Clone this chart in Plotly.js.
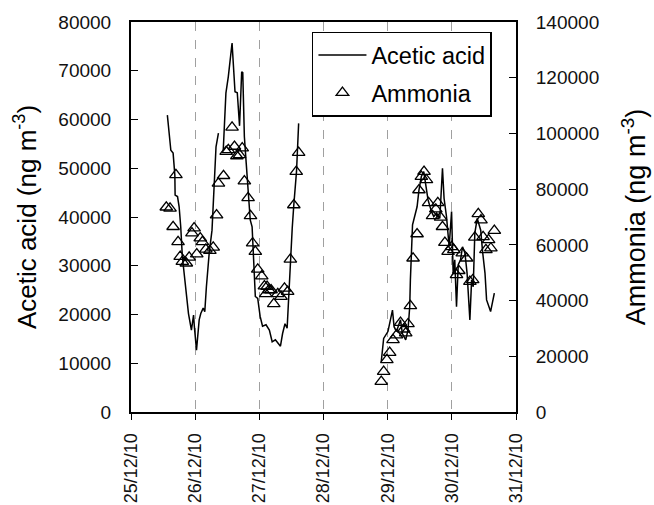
<!DOCTYPE html>
<html>
<head>
<meta charset="utf-8">
<script src="https://cdn.plot.ly/plotly-3.0.1.min.js"></script>
<style>html,body{margin:0;padding:0;background:#fff;}#chart{width:654px;height:505px;}</style>
</head>
<body>
<div id="chart"></div>
<script>
// Hours after 25/12/2010 00:00 and concentrations (ng m-3); null = gap in record
var aceticHours = [13.6,14.9,15.75,16.4,16.5,17.4,18.0,18.6,19.2,19.9,20.5,21.5,22.6,23.4,23.7,24.5,25.5,26.1,27.0,27.6,28.2,29.25,30.3,31.1,31.8,32.7,
  33.6,
  34.5,35.5,36.4,37.8,38.9,39.75,40.6,41.4,41.8,42.4,43.1,43.9,44.6,45.3,45.75,46.5,47.4,48.3,49.2,50.5,51.75,52.8,54.0,54.9,55.9,56.7,57.6,58.4,59.0,59.6,60.3,60.9,61.9,62.7,
  80,
  93.6,94.5,96.1,97.8,98.4,99.3,100.8,101.5,102.75,103.6,104.25,104.5,105.3,106.1,107.0,107.7,108.6,109.5,110.25,111.1,112.4,113.25,114.3,115.5,116.5,117.1,118.0,119.0,119.9,120.5,121.1,121.75,122.4,123.25,124.0,124.9,125.7,126.75,127.4,128.0,128.6,129.5,130.2,130.8,131.5,132.4,133.0,134.5,135.9];
var aceticAcid = [60900,53700,53100,48600,44500,44200,42100,38000,31900,28400,24300,20200,16800,19900,17500,12700,18900,20200,21300,20600,25700,32600,37300,46200,54400,57200,
  null,
  53700,65400,68800,75700,65700,65500,58700,69800,69600,56500,51000,45500,39400,38000,32200,23700,23300,19600,17600,17900,16800,14400,14800,14200,13500,16100,18100,17200,24700,31500,37700,42500,49300,59200,
  null,
  10300,15100,16500,20900,17500,16500,18900,16100,14800,16800,21600,27100,38400,40100,42100,45500,48300,49300,46600,43500,41100,40100,40800,39700,50000,43800,40100,33900,41100,28500,31200,21600,30200,31200,33900,32600,28500,18900,27100,25700,36700,39700,38400,37300,32900,28500,23000,20600,24400];

var ammoniaHours = [13.2,14.6,15.75,16.8,17.6,18.4,19.2,20.7,21.75,22.8,23.6,24.6,25.9,26.7,28.0,29.5,30.75,32.0,32.7,34.6,35.6,36.4,37.8,38.7,39.6,40.6,41.6,42.4,43.8,44.7,45.5,46.5,47.4,48.9,49.9,50.4,50.9,51.6,52.4,53.4,54.9,56.1,57.4,58.6,59.6,60.9,61.8,62.7,
  93.6,94.5,95.7,96.75,98.0,99.3,100.8,102.0,102.75,103.6,104.5,105.5,107.0,107.7,108.6,109.6,110.5,111.3,112.8,114.0,114.75,115.8,116.5,117.4,118.6,119.9,120.75,121.75,122.6,123.9,125.5,126.75,127.8,128.6,129.9,130.9,131.7,132.75,133.75,134.6,135.9];
var ammonia = [73500,73100,66500,85100,61100,55800,54000,53400,55500,64200,66000,56700,62400,61100,58400,57900,59100,70700,82100,84800,93500,94100,102200,95300,91900,92300,94700,82900,76900,70400,60600,57600,51200,48800,45200,42400,45000,43800,43800,38800,42400,41400,44400,43200,54800,74300,86300,93100,
  10900,14500,18700,21300,25900,27600,32100,29700,28300,31600,38100,55200,63900,79700,84500,86300,83300,75100,70400,72800,75100,69900,66500,60800,57600,59300,58200,49200,50700,57000,55200,46800,47400,62700,71100,68900,62900,58200,61800,58800,65100];

var dayTickLabels = ['25/12/10','26/12/10','27/12/10','28/12/10','29/12/10','30/12/10','31/12/10'];

var startMs = Date.UTC(2010, 11, 25);
function toDate(h) {
  var d = new Date(startMs + h * 3600000);
  function p(n){ return (n < 10 ? '0' : '') + n; }
  return d.getUTCFullYear() + '-' + p(d.getUTCMonth() + 1) + '-' + p(d.getUTCDate()) + ' ' +
         p(d.getUTCHours()) + ':' + p(d.getUTCMinutes()) + ':' + p(d.getUTCSeconds());
}
var tickVals = dayTickLabels.map(function(_, i){ return toDate(24 * i); });

var FONT = 'Liberation Sans, Arial, sans-serif';

var traces = [
  {
    x: aceticHours.map(toDate), y: aceticAcid, name: 'Acetic acid',
    type: 'scatter', mode: 'lines', connectgaps: false,
    line: {color: '#000', width: 1.5},
    legendgroup: 'a', yaxis: 'y'
  },
  {
    x: ammoniaHours.map(toDate), y: ammonia, name: 'Ammonia',
    type: 'scatter', mode: 'markers',
    marker: {symbol: 'triangle-up-open', size: 11, color: '#000', line: {width: 1.3, color: '#000'}},
    legendgroup: 'b', yaxis: 'y2'
  }
];

var layout = {
  width: 654, height: 505,
  margin: {l: 131, r: 138, t: 22, b: 93},
  paper_bgcolor: '#fff', plot_bgcolor: '#fff',
  font: {family: FONT, color: '#111', size: 19},
  showlegend: true,
  legend: {
    x: 0.47, y: 0.975, xanchor: 'left', yanchor: 'top',
    bgcolor: '#fff', bordercolor: '#000', borderwidth: 1.5,
    font: {family: FONT, size: 23.5, color: '#000'},
    tracegroupgap: 4, traceorder: 'grouped', itemwidth: 48,
    entrywidth: 128
  },
  xaxis: {
    type: 'date',
    range: [tickVals[0], tickVals[tickVals.length - 1]],
    tickmode: 'array', tickvals: tickVals, ticktext: dayTickLabels,
    tickangle: -90, ticks: 'outside', ticklen: 6, tickcolor: '#000', tickwidth: 1,
    ticklabelstandoff: 6,
    showgrid: true, gridcolor: '#a0a0a0', griddash: 'dash', gridwidth: 1,
    showline: true, linecolor: '#000', linewidth: 2, mirror: true,
    zeroline: false,
    tickfont: {family: FONT, size: 18, color: '#111'}
  },
  yaxis: {
    range: [0, 80000], dtick: 10000, tick0: 0, tickformat: 'd',
    ticks: 'inside', ticklen: 7, tickcolor: '#000', tickwidth: 1,
    ticklabelstandoff: 14,
    showgrid: false, zeroline: false,
    showline: true, linecolor: '#000', linewidth: 2,
    tickfont: {family: FONT, size: 19, color: '#111'},
    title: {text: 'Acetic acid (ng m<sup>-3</sup>)', font: {family: FONT, size: 26, color: '#000'}, standoff: 14}
  },
  yaxis2: {
    overlaying: 'y', side: 'right',
    range: [0, 140000], dtick: 20000, tick0: 0, tickformat: 'd',
    ticks: 'inside', ticklen: 7, tickcolor: '#000', tickwidth: 1,
    ticklabelstandoff: 14,
    showgrid: false, zeroline: false,
    showline: true, linecolor: '#000', linewidth: 2,
    tickfont: {family: FONT, size: 19, color: '#111'},
    title: {text: 'Ammonia (ng m<sup>-3</sup>)', font: {family: FONT, size: 27, color: '#000'}, standoff: 28}
  }
};

Plotly.newPlot('chart', traces, layout, {displayModeBar: false, staticPlot: true});
</script>
</body>
</html>
